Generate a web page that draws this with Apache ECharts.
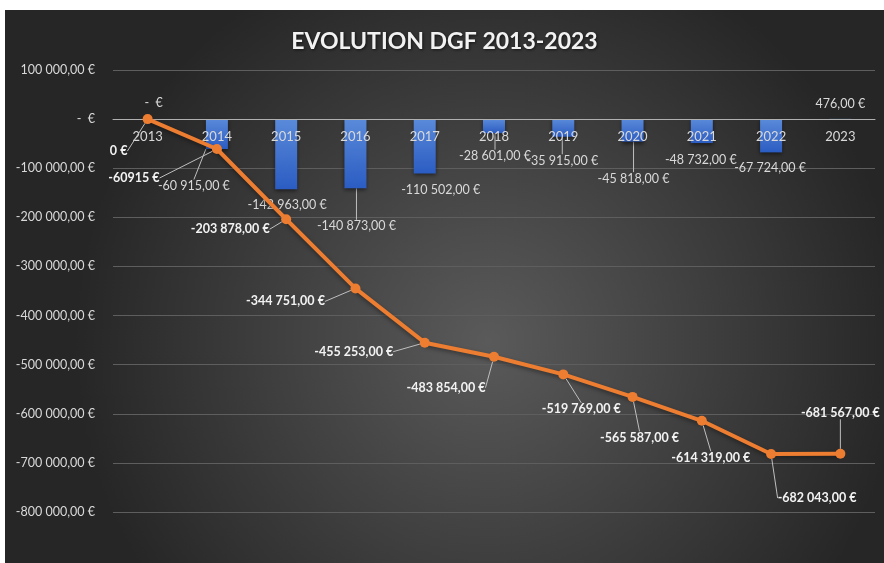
<!DOCTYPE html>
<html><head><meta charset="utf-8">
<script src="https://cdn.jsdelivr.net/npm/echarts@6/dist/echarts.min.js"></script>
<style>
html,body{margin:0;padding:0;background:#fff;width:884px;height:563px;overflow:hidden}
#c{position:absolute;left:5px;top:10px;width:879px;height:553px}
</style>
</head><body><div id="c"></div>
<script>
// ---- data ----
const categories = ['2013','2014','2015','2016','2017','2018','2019','2020','2021','2022','2023'];
const annualValues = [0, -60915, -142963, -140873, -110502, -28601, -35915, -45818, -48732, -67724, 476];
const cumulativeValues = [0, -60915, -203878, -344751, -455253, -483854, -519769, -565587, -614319, -682043, -681567];
const yMin = -800000, yMax = 100000, yInterval = 100000;
const lineLabelOverrides = {0: '0 €', 1: '-60915 €'};
const chartTitle = 'EVOLUTION DGF 2013-2023';

// ---- label placement (styling) ----
const barLabelOffsets = [[6,-16],[-23,37],[1,16],[1,38],[16,17],[1,23],[-1,24],[1,37],[-1,17],[-1,16],[0,-15]];
const barLeader = [false,true,false,true,false,true,true,true,false,false,false];
const lineLabelOffsets = [[-29,32],[-83,29],[-56,10],[-70,13],[-71,9],[-48,31],[18,35],[7,41],[9,37],[46,44],[0,-41]];

function eur(v){
  if (v === 0) return '-  €';
  const s = Math.abs(v).toFixed(2).split('.');
  const int = s[0].replace(/\B(?=(\d{3})+(?!\d))/g, ' ');
  return (v < 0 ? '-' : '') + int + ',' + s[1] + ' €';
}

const FONT = 'Lato';
const chart = echarts.init(document.getElementById('c'));
chart.setOption({
  animation: false,
  backgroundColor: {
    type: 'radial', x: 0.55, y: 0.6, r: 0.75,
    colorStops: [{offset: 0, color: '#5a5a5a'}, {offset: 1, color: '#262626'}]
  },
  title: {
    text: chartTitle, left: 'center', top: 15,
    textStyle: {color: '#f2f2f2', fontFamily: FONT, fontWeight: 'bold', fontSize: 23,
      textShadowColor: 'rgba(0,0,0,0.6)', textShadowBlur: 3, textShadowOffsetX: 1, textShadowOffsetY: 1}
  },
  grid: {left: 108, right: 9, top: 60, bottom: 51, containLabel: false},
  xAxis: {
    type: 'category', data: categories, z: 10,
    axisLine: {onZero: false, lineStyle: {color: '#b0b0b0', width: 1}},
    axisTick: {show: false},
    axisLabel: {color: '#d9d9d9', fontFamily: FONT, fontSize: 13, margin: 11}
  },
  yAxis: {
    type: 'value', min: yMin, max: yMax, interval: yInterval,
    axisLine: {show: false}, axisTick: {show: false},
    splitLine: {lineStyle: {color: '#5e5e5e', width: 1}},
    axisLabel: {color: '#d9d9d9', fontFamily: FONT, fontSize: 12.5, margin: 18, formatter: eur}
  },
  series: [
    {
      type: 'bar', barWidth: 22, z: 2,
      data: annualValues.map((v, i) => ({value: v, labelLine: {show: barLeader[i]}})),
      itemStyle: {
        color: {type: 'linear', x: 0, y: 0, x2: 0, y2: 1,
          colorStops: [{offset: 0, color: '#5a8ad9'}, {offset: 1, color: '#2b5cc2'}]},
        shadowColor: 'rgba(0,0,0,0.5)', shadowBlur: 4, shadowOffsetY: 2
      },
      label: {show: true, color: '#d9d9d9', fontFamily: FONT, fontSize: 12.5,
        formatter: p => eur(p.value)},
      labelLine: {show: true, lineStyle: {color: '#bfbfbf', width: 1}},
      labelLayout: function(p){
        const r = p.rect, i = p.dataIndex, v = annualValues[i];
        const ax = r.x + r.width / 2;
        const ay = v < 0 ? r.y + r.height : r.y;
        const o = barLabelOffsets[i];
        return {x: ax + o[0], y: ay + o[1], align: 'center', verticalAlign: 'middle'};
      }
    },
    {
      type: 'line', z: 12, data: cumulativeValues,
      symbol: 'circle', symbolSize: 10,
      lineStyle: {color: '#ED7D31', width: 4, shadowColor: 'rgba(0,0,0,0.4)', shadowBlur: 4, shadowOffsetY: 2},
      itemStyle: {color: '#ED7D31'},
      label: {show: true, color: '#f2f2f2', fontFamily: FONT, fontWeight: 'bold', fontSize: 12.5,
        formatter: p => (lineLabelOverrides[p.dataIndex] !== undefined ? lineLabelOverrides[p.dataIndex] : eur(p.value))},
      labelLine: {show: true, lineStyle: {color: '#bfbfbf', width: 1}},
      labelLayout: function(p){
        const r = p.rect, i = p.dataIndex;
        const o = lineLabelOffsets[i];
        return {x: r.x + r.width / 2 + o[0], y: r.y + r.height / 2 + o[1], align: 'center', verticalAlign: 'middle'};
      }
    }
  ]
});
// place the category axis on the zero line, using the library's own value scale
const yZero = chart.convertToPixel({yAxisIndex: 0}, 0);
const yBottom = chart.convertToPixel({yAxisIndex: 0}, yMin);
chart.setOption({xAxis: {offset: -(yBottom - yZero)}});
</script>
</body></html>
